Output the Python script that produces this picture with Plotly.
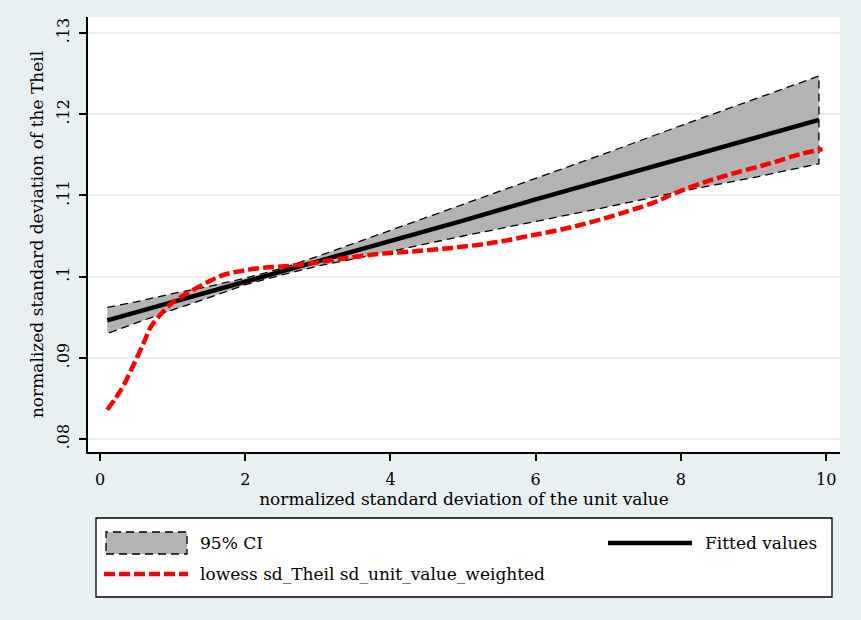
import plotly.graph_objects as go

# ---- data ----
x_fit = [0.1, 0.5, 1.0, 1.5, 2.0, 2.5, 3.0, 4.0, 5.0, 6.0, 7.0, 8.0, 9.0, 9.9]
fitted = [0.0946, 0.0956, 0.0969, 0.0981, 0.0994, 0.1006, 0.1019, 0.1044, 0.1069,
          0.1095, 0.1120, 0.1145, 0.1170, 0.1193]
ci_upper = [0.0962, 0.0969, 0.0979, 0.0988, 0.0998, 0.1010, 0.1025, 0.1057, 0.1089,
            0.1121, 0.1153, 0.1186, 0.1218, 0.1247]
ci_lower = [0.0930, 0.0943, 0.0959, 0.0974, 0.0990, 0.1002, 0.1013, 0.1031, 0.1050,
            0.1068, 0.1086, 0.1105, 0.1122, 0.1139]

x_low = [0.1, 0.3, 0.45, 0.6, 0.7, 0.85, 1.0, 1.25, 1.5, 1.7, 1.95, 2.25, 2.6, 2.95,
         3.4, 3.85, 4.3, 4.8, 5.2, 5.5, 5.9, 6.35, 6.8, 7.25, 7.65, 7.9, 8.35, 8.8,
         9.25, 9.65, 9.95]
lowess = [0.0836, 0.0862, 0.0889, 0.0918, 0.0938, 0.0955, 0.0968, 0.0982, 0.0994,
          0.1002, 0.1007, 0.1011, 0.1013, 0.1017, 0.1023, 0.1028, 0.1031, 0.1035,
          0.1039, 0.1043, 0.1050, 0.1058, 0.1068, 0.1080, 0.1092, 0.1102, 0.1117,
          0.1129, 0.1140, 0.1151, 0.1157]

y_tickvals = [0.08, 0.09, 0.10, 0.11, 0.12, 0.13]
y_ticktext = [".08", ".09", ".1", ".11", ".12", ".13"]
x_tickvals = [0, 2, 4, 6, 8, 10]

x_title = "normalized standard deviation of the unit value"
y_title = "normalized standard deviation of the Theil"
leg_ci = "95% CI"
leg_fit = "Fitted values"
leg_low = "lowess sd_Theil sd_unit_value_weighted"

FONT = "DejaVu Serif"
BG = "#e9f0f2"
TXT = 17

fig = go.Figure()

# CI band as closed polygon
fig.add_trace(go.Scatter(
    x=x_fit + x_fit[::-1],
    y=ci_upper + ci_lower[::-1],
    fill="toself", fillcolor="#b3b3b3",
    line=dict(color="black", width=1.3, dash="8px,5px"),
    mode="lines", hoverinfo="skip", showlegend=False, name=leg_ci))

fig.add_trace(go.Scatter(
    x=x_fit, y=fitted, mode="lines",
    line=dict(color="black", width=4.5), showlegend=False, name=leg_fit))

fig.add_trace(go.Scatter(
    x=x_low, y=lowess, mode="lines", line_shape="spline",
    line=dict(color="#ff0000", width=4.5, dash="11px,4px"), showlegend=False,
    name=leg_low))

L, R, T, B = 88, 21, 17, 168
W, H = 861, 620
pw, ph = W - L - R, H - T - B


def px(xp):
    return (xp - L) / pw


def py(yp):
    return (H - B - yp) / ph


shapes = [
    dict(type="rect", xref="paper", yref="paper", x0=px(96), x1=px(832), y0=py(597), y1=py(518),
         fillcolor="white", line=dict(color="black", width=1.3), layer="below"),
    dict(type="rect", xref="paper", yref="paper", x0=px(106), x1=px(187), y0=py(554), y1=py(532),
         fillcolor="#b3b3b3", line=dict(color="black", width=1.3, dash="8px,5px")),
    dict(type="line", xref="paper", yref="paper", x0=px(608), x1=px(692), y0=py(543), y1=py(543),
         line=dict(color="black", width=4.5)),
    dict(type="line", xref="paper", yref="paper", x0=px(104), x1=px(188), y0=py(574), y1=py(574),
         line=dict(color="#ff0000", width=4.5, dash="11px,4px")),
]
annotations = [
    dict(text=leg_ci, xref="paper", yref="paper", x=px(198), y=py(543), xanchor="left",
         yanchor="middle", showarrow=False, font=dict(family=FONT, size=TXT, color="black")),
    dict(text=leg_fit, xref="paper", yref="paper", x=px(703), y=py(543), xanchor="left",
         yanchor="middle", showarrow=False, font=dict(family=FONT, size=TXT, color="black")),
    dict(text=leg_low, xref="paper", yref="paper", x=px(198), y=py(574), xanchor="left",
         yanchor="middle", showarrow=False, font=dict(family=FONT, size=TXT, color="black")),
]

fig.update_layout(
    width=W, height=H,
    margin=dict(l=L, r=R, t=T, b=B, autoexpand=False),
    paper_bgcolor=BG, plot_bgcolor="white",
    font=dict(family=FONT, size=16, color="black"),
    shapes=shapes, annotations=annotations,
    showlegend=False,
)

fig.update_xaxes(
    range=[-0.165, 10.19], tickvals=x_tickvals, ticks="outside", ticklen=7,
    tickwidth=1.5, tickcolor="black", showline=True, linecolor="black", linewidth=1.5,
    showgrid=False, zeroline=False, ticklabelstandoff=5, automargin=False,
    title=dict(text=x_title, standoff=0, font=dict(family=FONT, size=TXT)),
)
fig.update_yaxes(
    range=[0.0784, 0.13197], tickvals=y_tickvals, ticktext=y_ticktext, tickangle=-90,
    ticks="outside", ticklen=7, tickwidth=1.5, tickcolor="black",
    showline=True, linecolor="black", linewidth=1.5,
    showgrid=True, gridcolor="#e8eff1", gridwidth=1.5, zeroline=False,
    ticklabelstandoff=4, automargin=False,
    title=dict(text=y_title, standoff=6, font=dict(family=FONT, size=TXT)),
)

fig.write_html(
    "out.html",
    config={"displayModeBar": False},
    post_script="document.body.style.margin='0px';document.body.style.background='%s';" % BG,
)
